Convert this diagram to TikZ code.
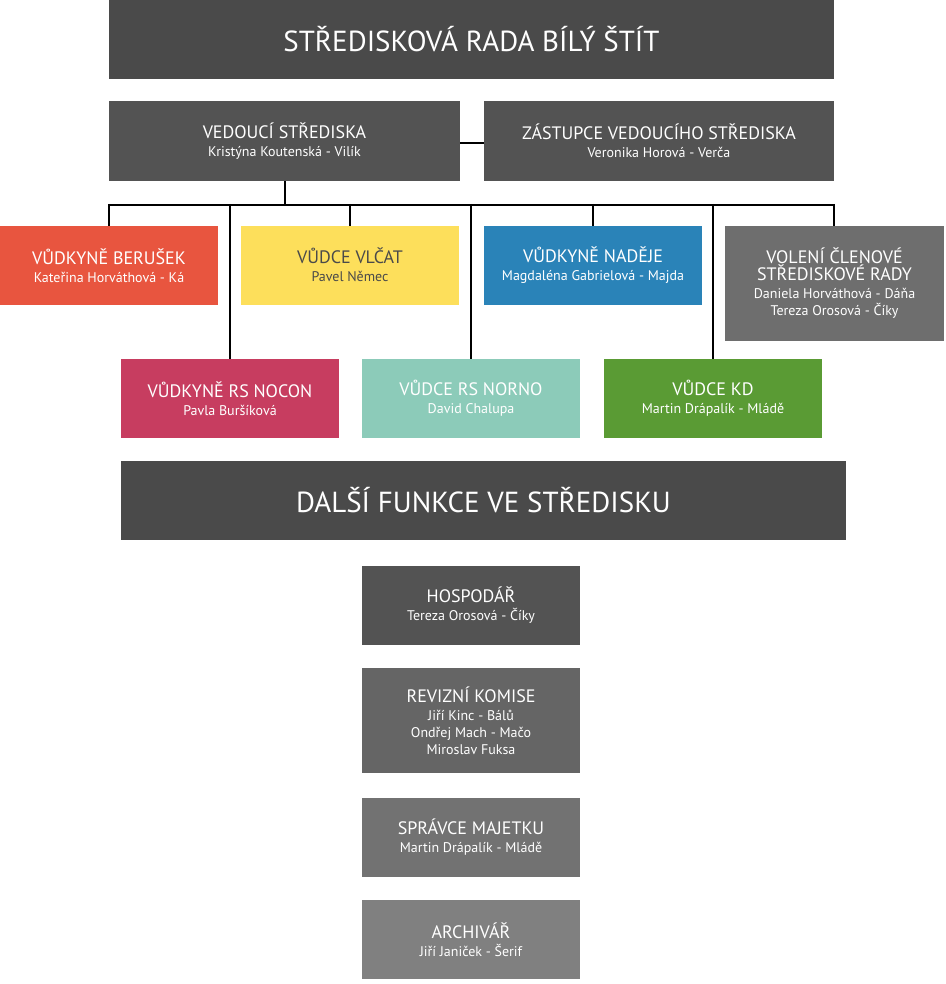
\documentclass[tikz,border=0pt]{standalone}
\usepackage{fontspec}
\setmainfont{PT Sans}
\definecolor{dk}{HTML}{4A4A4A}
\definecolor{ber}{HTML}{E8553F}
\definecolor{noc}{HTML}{C73D60}
\definecolor{vlc}{HTML}{FDDF5B}
\definecolor{nor}{HTML}{8CCBB9}
\definecolor{nad}{HTML}{2A83B8}
\definecolor{kd}{HTML}{5A9B34}
\definecolor{vol}{HTML}{6E6E6E}
\begin{document}
\begin{tikzpicture}[x=1pt,y=-1pt,
  bx/.style={inner sep=0pt,text=white,align=center,font=\fontsize{18}{20}\selectfont},
  ln/.style={line width=2.2pt,black}]
\useasboundingbox (0,0) rectangle (945,984);
\newcommand{\bx}[7]{\fill[#6] (#2,#3) rectangle (#4,#5);
  \node[bx,#7] (#1) at ({(#2+#4)/2},{(#3+#5)/2}) {#6};}
\renewcommand{\bx}[7]{\fill[#6] (#2,#3) rectangle (#4,#5);
  \coordinate (#1) at ({(#2+#4)/2},{(#3+#5)/2});
  \node[bx] at (#1) {#7};}
\newcommand{\nm}[1]{\\[-2pt]{\fontsize{14}{16}\selectfont #1}}
% lines
\draw[ln] (460,143) -- (484,143);
\draw[ln] (285,181) -- (285,205);
\draw[ln] (109,205) -- (834,205);
\foreach \x/\y in {109/226,230/359,350/226,471/359,593/226,713/359,834/226}
  \draw[ln] (\x,204) -- (\x,\y);
\bx{t}{109}{0}{834}{79}{dk}{\fontsize{29}{32}\selectfont STŘEDISKOVÁ RADA BÍLÝ ŠTÍT}
\bx{v}{109}{101}{460}{181}{dk!95}{VEDOUCÍ STŘEDISKA\nm{Kristýna Koutenská - Vilík}}
\bx{z}{484}{101}{834}{181}{dk!95}{ZÁSTUPCE VEDOUCÍHO STŘEDISKA\nm{Veronika Horová - Verča}}
\bx{b}{0}{226}{218}{305}{ber}{VŮDKYNĚ BERUŠEK\nm{Kateřina Horváthová - Ká}}
\fill[vlc] (241,226) rectangle (459,305);
\node[bx,text=dk] (c) at (350,265) {VŮDCE VLČAT\nm{Pavel Němec}};
\bx{n}{484}{226}{702}{305}{nad}{VŮDKYNĚ NADĚJE\nm{Magdaléna Gabrielová - Majda}}
\bx{o}{725}{226}{944}{341}{vol}{VOLENÍ ČLENOVÉ\\[-3pt]STŘEDISKOVÉ RADY\nm{Daniela Horváthová - Dáňa}\\[-3pt]{\fontsize{14}{16}\selectfont Tereza Orosová - Číky}}
\bx{r1}{121}{359}{339}{438}{noc}{VŮDKYNĚ RS NOCON\nm{Pavla Buršíková}}
\bx{r2}{362}{359}{580}{438}{nor}{VŮDCE RS NORNO\nm{David Chalupa}}
\bx{k}{604}{359}{822}{438}{kd}{VŮDCE KD\nm{Martin Drápalík - Mládě}}
\bx{d}{121}{461}{846}{540}{dk}{\fontsize{29}{32}\selectfont DALŠÍ FUNKCE VE STŘEDISKU}
\bx{h}{362}{566}{580}{645}{dk!95}{HOSPODÁŘ\nm{Tereza Orosová - Číky}}
\bx{rk}{362}{668}{580}{773}{dk!85}{REVIZNÍ KOMISE\nm{Jiří Kinc - Bálů}\\[-3pt]{\fontsize{14}{16}\selectfont Ondřej Mach - Mačo}\\[-3pt]{\fontsize{14}{16}\selectfont Miroslav Fuksa}}
\bx{s}{362}{798}{580}{877}{dk!78}{SPRÁVCE MAJETKU\nm{Martin Drápalík - Mládě}}
\bx{a}{362}{900}{580}{979}{dk!70}{ARCHIVÁŘ\nm{Jiří Janiček - Šerif}}
\end{tikzpicture}
\end{document}
